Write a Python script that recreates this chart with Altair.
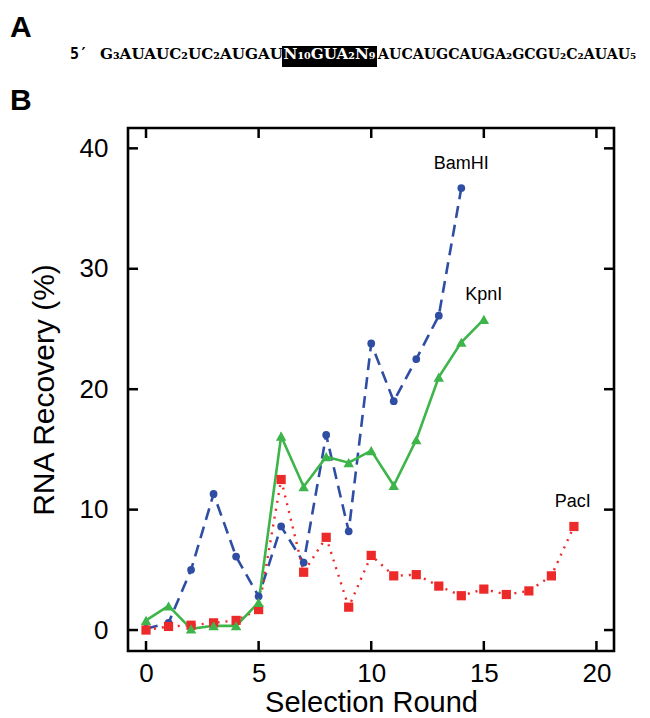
import altair as alt
import pandas as pd

# ---- data ----
bam_rounds = list(range(0, 15))
bam_values = [0.1, 0.6, 5.0, 11.3, 6.1, 2.8, 8.6, 5.6, 16.2, 8.2, 23.8, 19.0, 22.5, 26.1, 36.7]

kpn_rounds = list(range(0, 16))
kpn_values = [0.8, 2.0, 0.1, 0.35, 0.35, 2.3, 16.1, 11.9, 14.4, 13.9, 14.9, 12.0, 15.8, 21.0, 23.9, 25.8]

pac_rounds = list(range(0, 20))
pac_values = [0.0, 0.3, 0.4, 0.6, 0.8, 1.7, 12.5, 4.8, 7.7, 1.9, 6.2, 4.5, 4.6, 3.65, 2.85, 3.4, 2.95, 3.25, 4.5, 8.6]

label_names = ["BamHI", "KpnI", "PacI"]
label_x = [14.0, 15.0, 18.95]
label_y = [38.7, 27.8, 10.65]

x_ticks = [0, 5, 10, 15, 20]
y_ticks = [0, 10, 20, 30, 40]

seq_prime = "5\u2032"
seq_left = "G\u2083AUAUC\u2082UC\u2082AUGAU"
seq_box = "N\u2081\u2080GUA\u2082N\u2089"
seq_right = "AUCAUGCAUGA\u2082GCGU\u2082C\u2082AUAU\u2085"

BLUE = "#2f4ea3"
GREEN = "#3db54a"
RED = "#ec2a2a"

W, H = 486, 523
FONT = "Liberation Sans"

xs = alt.Scale(domain=[-0.8, 20.78], nice=False, zero=False)
ys = alt.Scale(domain=[-1.74, 41.69], nice=False, zero=False)

bam = pd.DataFrame({"r": bam_rounds, "v": bam_values})
kpn = pd.DataFrame({"r": kpn_rounds, "v": kpn_values})
pac = pd.DataFrame({"r": pac_rounds, "v": pac_values})
labels = pd.DataFrame({"r": label_x, "v": label_y, "name": label_names})
xt = pd.DataFrame({"r": x_ticks})
yt = pd.DataFrame({"v": y_ticks})

x_axis = alt.Axis(values=x_ticks, ticks=False, domain=False, grid=False,
                  labelFontSize=26, labelFont=FONT, labelColor="black", labelPadding=9,
                  title="Selection Round", titleFontSize=29, titleFont=FONT,
                  titleFontWeight="normal", titleColor="black", titlePadding=2)
y_axis = alt.Axis(values=y_ticks, ticks=False, domain=False, grid=False,
                  labelFontSize=26, labelFont=FONT, labelColor="black", labelPadding=20,
                  title="RNA Recovery (%)", titleFontSize=30, titleFont=FONT,
                  titleFontWeight="normal", titleColor="black", titlePadding=20)

X = alt.X("r:Q", scale=xs, axis=x_axis, title="Selection Round")
Y = alt.Y("v:Q", scale=ys, axis=y_axis, title="RNA Recovery (%)")

bam_line = alt.Chart(bam).mark_line(color=BLUE, strokeWidth=2.6, strokeDash=[12, 7]).encode(x=X, y=Y)
pac_line = alt.Chart(pac).mark_line(color=RED, strokeWidth=2.4, strokeDash=[2, 6]).encode(x=X, y=Y)
kpn_line = alt.Chart(kpn).mark_line(color=GREEN, strokeWidth=2.6).encode(x=X, y=Y)

bam_pts = alt.Chart(bam).mark_point(shape="circle", filled=True, size=60, color=BLUE, opacity=1).encode(x=X, y=Y)
pac_pts = alt.Chart(pac).mark_point(shape="square", filled=True, size=85, color=RED, opacity=1).encode(x=X, y=Y)
kpn_pts = alt.Chart(kpn).mark_point(shape="triangle-up", filled=True, size=110, color=GREEN, opacity=1).encode(x=X, y=Y)

series_labels = alt.Chart(labels).mark_text(font=FONT, fontSize=18, color="black", baseline="middle").encode(
    x=X, y=Y, text="name:N")

tick_style = dict(color="black", strokeWidth=2.5)
xt_bottom = alt.Chart(xt).mark_rule(**tick_style).encode(x=X, y=alt.value(H), y2=alt.value(H - 10))
xt_top = alt.Chart(xt).mark_rule(**tick_style).encode(x=X, y=alt.value(0), y2=alt.value(10))
yt_left = alt.Chart(yt).mark_rule(**tick_style).encode(y=Y, x=alt.value(0), x2=alt.value(10))
yt_right = alt.Chart(yt).mark_rule(**tick_style).encode(y=Y, x=alt.value(W), x2=alt.value(W - 10))

# ---- panel A / B annotations (outside the plot area) ----
one = pd.DataFrame({"k": [0]})
panel_a = alt.Chart(one).mark_text(text="A", font=FONT, fontWeight="bold", fontSize=30,
                                   align="left", baseline="alphabetic", color="black").encode(
    x=alt.value(-118), y=alt.value(-91))
panel_b = alt.Chart(one).mark_text(text="B", font=FONT, fontWeight="bold", fontSize=30,
                                   align="left", baseline="alphabetic", color="black").encode(
    x=alt.value(-118), y=alt.value(-18))
prime = alt.Chart(one).mark_text(text=seq_prime, font="DejaVu Sans Mono", fontWeight="bold", fontSize=15,
                                 align="left", baseline="alphabetic", color="black").encode(
    x=alt.value(-58), y=alt.value(-69))
seq1 = alt.Chart(one).mark_text(text=seq_left, font="DejaVu Serif", fontWeight="bold", fontSize=15.2,
                                align="left", baseline="alphabetic", color="black").encode(
    x=alt.value(-28), y=alt.value(-69))
box = alt.Chart(one).mark_rect(color="black").encode(
    x=alt.value(154), x2=alt.value(249), y=alt.value(-82), y2=alt.value(-61))
seq2 = alt.Chart(one).mark_text(text=seq_box, font="DejaVu Serif", fontWeight="bold", fontSize=15.2,
                                align="center", baseline="alphabetic", color="white").encode(
    x=alt.value(201.5), y=alt.value(-69))
seq3 = alt.Chart(one).mark_text(text=seq_right, font="DejaVu Serif", fontWeight="bold", fontSize=14.2,
                                align="left", baseline="alphabetic", color="black").encode(
    x=alt.value(250), y=alt.value(-69))

chart = alt.layer(
    bam_line, pac_line, kpn_line,
    bam_pts, pac_pts, kpn_pts,
    series_labels,
    xt_bottom, xt_top, yt_left, yt_right,
    panel_a, panel_b, prime, seq1, box, seq2, seq3,
).properties(
    width=W, height=H,
    background="white",
    autosize=alt.AutoSizeParams(type="none"),
    padding={"left": 120, "top": 120, "right": 26, "bottom": 62},
).configure_view(
    stroke="black", strokeWidth=2.6
)

chart.save("out.html", embed_options={"renderer": "svg", "actions": False})
